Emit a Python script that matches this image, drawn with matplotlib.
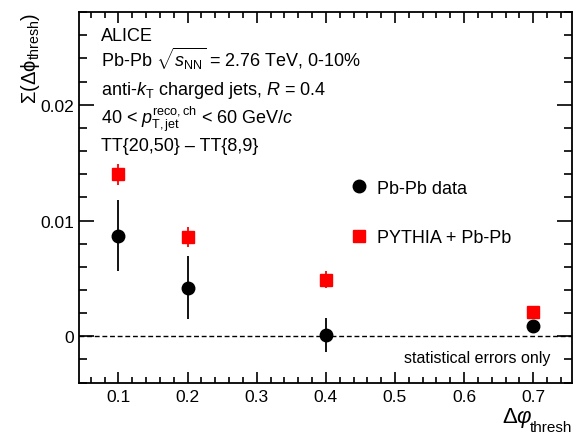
import matplotlib
matplotlib.use('Agg')
import matplotlib.pyplot as plt
from matplotlib.ticker import MultipleLocator

plt.rcParams['font.family'] = 'Liberation Sans'
plt.rcParams['mathtext.fontset'] = 'custom'
plt.rcParams['mathtext.rm'] = 'Liberation Sans'
plt.rcParams['mathtext.it'] = 'Liberation Sans:italic'
plt.rcParams['mathtext.bf'] = 'Liberation Sans:bold'
plt.rcParams['mathtext.sf'] = 'Liberation Sans'

# Sigma(dphi_thresh) vs angular threshold
dphi = [0.1, 0.2, 0.4, 0.7]
data_val = [0.0087, 0.0042, 0.0001, 0.0009]
data_err = [0.0031, 0.0027, 0.0015, 0.0002]
pythia_val = [0.0140, 0.0086, 0.0049, 0.0021]
pythia_err = [0.0009, 0.00085, 0.0007, 0.0005]

info_lines = [
    'ALICE',
    r'Pb-Pb $\sqrt{s_{\rm NN}}$ = 2.76 TeV, 0-10%',
    r'anti-$k_{\rm T}$ charged jets, $R$ = 0.4',
    r'40 < $p_{\rm T,jet}^{\rm reco,ch}$ < 60 GeV/$c$',
    'TT{20,50} \u2013 TT{8,9}',
]

fig = plt.figure(figsize=(5.75, 4.35), dpi=100)
ax = fig.add_axes([0.1374, 0.1172, 0.8574, 0.8536])

ax.axhline(0, color='black', lw=1.0, ls=(0, (3.5, 2)))

eb_py = ax.errorbar(dphi, pythia_val, yerr=pythia_err, fmt='s', color='red', ms=9,
                    elinewidth=1.3, capsize=0, zorder=3)
eb_pb = ax.errorbar(dphi, data_val, yerr=data_err, fmt='o', color='black', ms=9,
                    elinewidth=1.3, capsize=0, zorder=4)

ax.set_xlim(0.043, 0.756)
ax.set_ylim(-0.00404, 0.02804)

ax.xaxis.set_minor_locator(MultipleLocator(0.02))
ax.yaxis.set_minor_locator(MultipleLocator(0.002))
ax.set_xticks([0.1, 0.2, 0.3, 0.4, 0.5, 0.6, 0.7])
ax.set_xticklabels(['0.1', '0.2', '0.3', '0.4', '0.5', '0.6', '0.7'])
ax.set_yticks([0, 0.01, 0.02])
ax.set_yticklabels(['0', '0.01', '0.02'])

for s in ax.spines.values():
    s.set_linewidth(1.3)
ax.tick_params(which='both', direction='in', top=True, right=True,
               labelsize=12.5, width=1.2)
ax.tick_params(axis='x', which='major', length=8, pad=4)
ax.tick_params(axis='x', which='minor', length=4)
ax.tick_params(axis='y', which='major', length=11, pad=3.5)
ax.tick_params(axis='y', which='minor', length=6)

# info block, one line per baseline
baselines = [40.7, 67, 95, 123.5, 151]
for line, yb in zip(info_lines, baselines):
    fig.text(101 / 575, 1 - yb / 435, line, fontsize=13, va='baseline', ha='left')

ax.text(0.957, 0.07, 'statistical errors only', transform=ax.transAxes,
        fontsize=11.5, ha='right', va='center')

# legend shows bare markers only
ax.legend([eb_pb[0], eb_py[0]], ['Pb-Pb data', 'PYTHIA + Pb-Pb'], loc='upper left',
          bbox_to_anchor=(352 / 575, 1 - 180.5 / 435),
          bbox_transform=fig.transFigure, frameon=False, fontsize=13,
          handlelength=0.8, handletextpad=0.6, labelspacing=1.81,
          borderpad=0, borderaxespad=0, numpoints=1)

# axis titles
fig.text(502 / 575, 1 - 423.5 / 435, r'$\Delta\varphi$',
         fontsize=16, ha='left', va='baseline')
fig.text(530 / 575, 1 - 432 / 435, 'thresh', fontsize=11, ha='left', va='baseline')
fig.text(30 / 575, 1 - 13 / 435, r'$\Sigma(\Delta\mathrm{\phi}_{\rm thresh})$',
         fontsize=14.5, rotation=90, ha='center', va='top')

fig.savefig('out.png', dpi=100)
